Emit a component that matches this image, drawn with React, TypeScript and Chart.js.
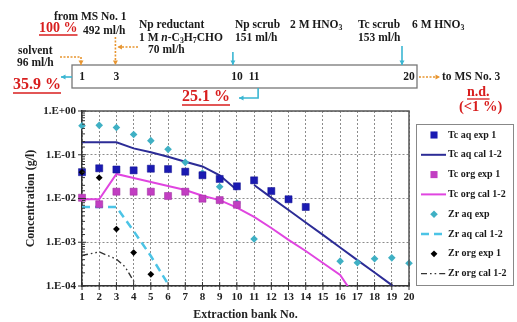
import React, { useEffect, useRef } from 'react';
import { Chart, registerables } from 'chart.js';
Chart.register(...registerables);

const SERIF = '"Liberation Serif", "Times New Roman", serif';

// Extraction bank numbers (categories)
const banks = [1, 2, 3, 4, 5, 6, 7, 8, 9, 10, 11, 12, 13, 14, 15, 16, 17, 18, 19, 20];

// Experimental values (g/l), null = no measurement
const tcAqExp = [0.040, 0.049, 0.046, 0.044, 0.048, 0.047, 0.041, 0.034, 0.028, 0.019, 0.026, 0.0148, 0.0096, 0.0064, null, null, null, null, null, null];
const tcOrgExp = [0.0104, 0.0074, 0.0143, 0.0143, 0.0143, 0.0114, 0.0143, 0.0099, 0.0092, 0.0072, null, null, null, null, null, null, null, null, null, null];
const zrAqExp = [0.46, 0.47, 0.42, 0.29, 0.21, 0.133, 0.067, 0.038, 0.0186, 0.0079, 0.00119, null, null, null, null, 0.00037, 0.00034, 0.00042, 0.00044, 0.00033];
const zrOrgExp = [0.040, 0.030, 0.0020, 0.00058, 0.000185, null, null, null, null, null, null, null, null, null, null, null, null, null, null, null];

// Calculated profiles (bank position, g/l)
const tcAqCalX = [1, 2, 3, 4, 5, 6, 7, 8, 9, 10, 10.5, 11, 12, 13, 14, 15, 16, 17, 18, 19, 19.4];
const tcAqCalY = [0.193, 0.193, 0.193, 0.140, 0.114, 0.090, 0.069, 0.054, 0.034, 0.0156, null, 0.0204, 0.0105, 0.00546, 0.00283, 0.00147, 0.00076, 0.00039, 0.000204, 0.000105, 0.00007];
const tcOrgCalX = [1, 2, 3, 4, 5, 6, 7, 8, 9, 10, 11, 12, 13, 14, 15, 16, 16.6];
const tcOrgCalY = [0.0096, 0.0096, 0.0363, 0.0294, 0.0238, 0.0193, 0.0156, 0.0116, 0.0092, 0.0062, 0.0038, 0.00212, 0.00113, 0.00063, 0.000336, 0.000178, 0.00008];
const zrAqCalX = [1, 2, 3, 4, 5, 6, 6.1];
const zrAqCalY = [0.0064, 0.0064, 0.0064, 0.0018, 0.000485, 0.000111, 0.00008];
const zrOrgCalX = [1, 2, 3, 3.5, 4, 4.2];
const zrOrgCalY = [0.0005, 0.0006, 0.00041, 0.000275, 0.00013, 0.00008];

const yTickLabels = ['1.E-04', '1.E-03', '1.E-02', '1.E-01', '1.E+00'];

const pts = (arr: (number | null)[]) =>
  banks.map((b, i) => ({ x: b, y: arr[i] })).filter((p) => p.y !== null);
const line = (xs: number[], ys: (number | null)[]) => xs.map((x, i) => ({ x, y: ys[i] }));

const isDecade = (v: number) => {
  const e = Math.log10(v);
  return Math.abs(e - Math.round(e)) < 1e-6;
};

const RED = '#d81e1e';
const ORANGE = '#e8952f';
const CYAN = '#3ab6d2';
const INK = '#1a1a1a';

function txt(ctx: CanvasRenderingContext2D, s: string, x: number, y: number, size = 11.5, color = INK) {
  ctx.font = `bold ${size}px ${SERIF}`;
  ctx.fillStyle = color;
  ctx.textAlign = 'left';
  ctx.textBaseline = 'middle';
  ctx.fillText(s, x, y);
  return ctx.measureText(s).width;
}

function under(ctx: CanvasRenderingContext2D, s: string, x: number, y: number, size: number) {
  const w = txt(ctx, s, x, y, size, RED);
  ctx.save();
  ctx.strokeStyle = RED;
  ctx.lineWidth = 1.3;
  ctx.setLineDash([]);
  ctx.beginPath();
  ctx.moveTo(x, y + size * 0.5);
  ctx.lineTo(x + w, y + size * 0.5);
  ctx.stroke();
  ctx.restore();
}

function rich(ctx: CanvasRenderingContext2D, parts: [string, string][], x: number, y: number, size = 11.5) {
  let cx = x;
  for (const [t, k] of parts) {
    const sz = k === 's' ? size * 0.68 : size;
    ctx.font = `${k === 'i' ? 'italic ' : ''}bold ${sz}px ${SERIF}`;
    ctx.fillStyle = INK;
    ctx.textAlign = 'left';
    ctx.textBaseline = 'middle';
    ctx.fillText(t, cx, y + (k === 's' ? size * 0.3 : 0));
    cx += ctx.measureText(t).width;
  }
}

function arrow(ctx: CanvasRenderingContext2D, p: number[][], color: string, dotted: boolean) {
  ctx.save();
  ctx.strokeStyle = color;
  ctx.fillStyle = color;
  ctx.lineWidth = 1.6;
  ctx.setLineDash(dotted ? [2, 1.5] : []);
  ctx.beginPath();
  ctx.moveTo(p[0][0], p[0][1]);
  for (let i = 1; i < p.length; i++) ctx.lineTo(p[i][0], p[i][1]);
  ctx.stroke();
  ctx.setLineDash([]);
  const [x1, y1] = p[p.length - 2];
  const [x2, y2] = p[p.length - 1];
  const a = Math.atan2(y2 - y1, x2 - x1);
  const L = 4.5, W = 2.5;
  const c = Math.cos(a), s = Math.sin(a);
  ctx.beginPath();
  ctx.moveTo(x2, y2);
  ctx.lineTo(x2 - L * c + W * s, y2 - L * s - W * c);
  ctx.lineTo(x2 - L * c - W * s, y2 - L * s + W * c);
  ctx.closePath();
  ctx.fill();
  ctx.restore();
}

const decorPlugin = {
  id: 'decor',
  afterDraw(chart: any) {
    const { ctx, chartArea: a, scales } = chart;
    const xs = scales.x;
    const ys = scales.y;
    const p = (v: number) => xs.getPixelForValue(v);
    ctx.save();
    // frame top/right
    ctx.strokeStyle = '#555';
    ctx.lineWidth = 1.5;
    ctx.setLineDash([]);
    ctx.beginPath();
    ctx.moveTo(a.left, a.top);
    ctx.lineTo(a.right, a.top);
    ctx.lineTo(a.right, a.bottom);
    ctx.stroke();
    // tick crosses and minor ticks
    ctx.strokeStyle = '#333';
    ctx.lineWidth = 1;
    ctx.beginPath();
    for (const t of xs.ticks) {
      const px = p(t.value);
      ctx.moveTo(px, a.bottom - 4);
      ctx.lineTo(px, a.bottom + 4);
    }
    for (const t of ys.ticks) {
      const py = ys.getPixelForValue(t.value);
      if (isDecade(t.value)) {
        ctx.moveTo(a.left - 4, py);
        ctx.lineTo(a.left + 4, py);
      } else {
        ctx.moveTo(a.left, py);
        ctx.lineTo(a.left + 3, py);
      }
    }
    ctx.stroke();

    // ---- flow diagram ----
    const bl = p(1) - 10, br = p(20) + 8, bt = 65, bb = 88;
    ctx.strokeStyle = '#777';
    ctx.lineWidth = 1.3;
    ctx.strokeRect(bl, bt, br - bl, bb - bt);
    for (const n of [1, 3, 10, 11, 20]) {
      ctx.font = `bold 11.5px ${SERIF}`;
      ctx.fillStyle = INK;
      ctx.textAlign = 'center';
      ctx.textBaseline = 'middle';
      ctx.fillText(String(n), p(n), 77);
    }
    txt(ctx, 'from MS No. 1', 54, 17);
    under(ctx, '100 %', 39, 28, 14);
    txt(ctx, '492 ml/h', 83, 31);
    txt(ctx, 'Np reductant', 139, 25);
    rich(ctx, [['1 M ', 'n'], ['n', 'i'], ['-C', 'n'], ['3', 's'], ['H', 'n'], ['7', 's'], ['CHO', 'n']], 139, 38);
    txt(ctx, '70 ml/h', 148, 50);
    txt(ctx, 'solvent', 18, 51);
    txt(ctx, '96 ml/h', 17, 63);
    txt(ctx, 'Np scrub', 235, 25);
    rich(ctx, [['2 M HNO', 'n'], ['3', 's']], 290, 25);
    txt(ctx, '151 ml/h', 235, 38);
    txt(ctx, 'Tc scrub', 358, 25);
    rich(ctx, [['6 M HNO', 'n'], ['3', 's']], 412, 25);
    txt(ctx, '153 ml/h', 358, 38);
    under(ctx, '35.9 %', 13, 85, 16);
    under(ctx, '25.1 %', 182, 97, 16);
    txt(ctx, 'to MS No. 3', 442, 77);
    under(ctx, 'n.d.', 467, 92, 14);
    txt(ctx, '(<1 %)', 459, 107, 14.5, RED);
    // arrows
    arrow(ctx, [[60, 57], [p(1) - 1, 57], [p(1) - 1, bt]], ORANGE, true);
    arrow(ctx, [[p(3) - 1, 37], [p(3) - 1, bt]], ORANGE, true);
    arrow(ctx, [[138, 47], [p(3) + 1, 47]], ORANGE, true);
    arrow(ctx, [[br + 2, 77], [440, 77]], ORANGE, true);
    arrow(ctx, [[p(10) - 4, 52], [p(10) - 4, bt]], CYAN, false);
    arrow(ctx, [[p(20) - 7, 46], [p(20) - 7, bt]], CYAN, false);
    arrow(ctx, [[bl, 77], [61, 77]], CYAN, false);
    arrow(ctx, [[p(11) + 4, bb], [p(11) + 4, 98], [239, 98]], CYAN, false);

    // ---- legend ----
    const lx = 416, ly = 124, lw = 97, lh = 161;
    ctx.fillStyle = '#fff';
    ctx.fillRect(lx, ly, lw, lh);
    ctx.strokeStyle = '#888';
    ctx.lineWidth = 1;
    ctx.strokeRect(lx + 0.5, ly + 0.5, lw, lh);
    chart.data.datasets.forEach((ds: any, i: number) => {
      const cy = 135 + i * 19.8;
      ctx.save();
      if (ds.showLine === false) {
        ctx.fillStyle = ds.backgroundColor;
        const r = ds.pointRadius;
        ctx.beginPath();
        if (ds.pointStyle === 'rect') {
          const h = r * Math.SQRT1_2;
          ctx.rect(434 - h, cy - h, 2 * h, 2 * h);
        } else {
          ctx.moveTo(434 - r, cy);
          ctx.lineTo(434, cy - r);
          ctx.lineTo(434 + r, cy);
          ctx.lineTo(434, cy + r);
          ctx.closePath();
        }
        ctx.fill();
      } else {
        ctx.strokeStyle = ds.borderColor;
        ctx.lineWidth = ds.borderWidth;
        ctx.setLineDash(ds.borderDash || []);
        ctx.beginPath();
        ctx.moveTo(421, cy);
        ctx.lineTo(446, cy);
        ctx.stroke();
      }
      ctx.restore();
      txt(ctx, ds.label, 448, cy, 10);
    });
    ctx.restore();
  },
};

export default function App() {
  const ref = useRef<HTMLCanvasElement | null>(null);
  useEffect(() => {
    if (!ref.current) return;
    const chart = new Chart(ref.current, {
      type: 'line',
      data: {
        datasets: [
          { label: 'Tc aq exp 1', data: pts(tcAqExp), showLine: false, pointStyle: 'rect', pointRadius: 5, backgroundColor: '#1a1ab2', borderColor: '#12128c', pointBorderWidth: 0.5, clip: false, order: 2 },
          { label: 'Tc aq cal 1-2', data: line(tcAqCalX, tcAqCalY), borderColor: '#2c2c96', borderWidth: 2, pointRadius: 0, spanGaps: false, order: 5 },
          { label: 'Tc org exp 1', data: pts(tcOrgExp), showLine: false, pointStyle: 'rect', pointRadius: 5, backgroundColor: '#c23ec2', borderColor: '#9a2a9a', pointBorderWidth: 0.5, clip: false, order: 3 },
          { label: 'Tc org cal 1-2', data: line(tcOrgCalX, tcOrgCalY), borderColor: '#e045e0', borderWidth: 2, pointRadius: 0, order: 6 },
          { label: 'Zr aq exp', data: pts(zrAqExp), showLine: false, pointStyle: 'rectRot', pointRadius: 3.8, backgroundColor: '#3fb0c4', borderColor: '#3fb0c4', pointBorderWidth: 0, clip: false, order: 4 },
          { label: 'Zr aq cal 1-2', data: line(zrAqCalX, zrAqCalY), borderColor: '#4cc4e6', borderWidth: 2.5, borderDash: [8, 5], pointRadius: 0, order: 7 },
          { label: 'Zr org exp 1', data: pts(zrOrgExp), showLine: false, pointStyle: 'rectRot', pointRadius: 3.4, backgroundColor: '#000', borderColor: '#000', pointBorderWidth: 0, clip: false, order: 1 },
          { label: 'Zr org cal 1-2', data: line(zrOrgCalX, zrOrgCalY), borderColor: '#333', borderWidth: 1.4, borderDash: [6, 3, 1.6, 3, 1.6, 3], pointRadius: 0, order: 8 },
        ],
      } as any,
      options: {
        responsive: false,
        animation: false,
        events: [],
        layout: { padding: { top: 111, right: 108, left: 0, bottom: 0 } },
        plugins: { legend: { display: false }, tooltip: { enabled: false } },
        scales: {
          x: {
            type: 'linear',
            min: 1,
            max: 20,
            afterFit: (s: any) => { s.height = 36; },
            ticks: { stepSize: 1, autoSkip: false, maxRotation: 0, padding: 5, color: '#222', font: { family: SERIF, size: 11, weight: 'bold' } },
            grid: { color: '#8c8c8c', lineWidth: 1, drawTicks: false },
            border: { display: true, color: '#333', width: 1.5, dash: [2, 2] },
            title: { display: true, text: 'Extraction bank No.', color: '#222', padding: { top: 0, bottom: 0 }, font: { family: SERIF, size: 12, weight: 'bold', lineHeight: 1.2 } },
          },
          y: {
            type: 'logarithmic',
            min: 1e-4,
            max: 1,
            afterFit: (s: any) => { s.width = 82; },
            ticks: {
              autoSkip: false,
              padding: 6,
              color: '#222',
              font: { family: SERIF, size: 11, weight: 'bold' },
              callback: (v: any) => (isDecade(Number(v)) ? yTickLabels[Math.round(Math.log10(Number(v))) + 4] : ''),
            },
            grid: {
              drawTicks: false,
              lineWidth: 1,
              color: (c: any) => (c.tick && isDecade(c.tick.value) ? '#8c8c8c' : 'rgba(0,0,0,0)'),
            },
            border: { display: true, color: '#333', width: 1.5, dash: [2, 2] },
            title: { display: true, text: 'Concentration (g/l)', color: '#222', padding: { top: 24, bottom: 0 }, font: { family: SERIF, size: 12, weight: 'bold', lineHeight: 1.2 } },
          },
        },
      } as any,
      plugins: [decorPlugin],
    });
    return () => chart.destroy();
  }, []);
  return (
    <div style={{ position: 'fixed', left: 0, top: 0, width: 517, height: 322, background: '#fff' }}>
      <canvas ref={ref} width={517} height={322} />
    </div>
  );
}
